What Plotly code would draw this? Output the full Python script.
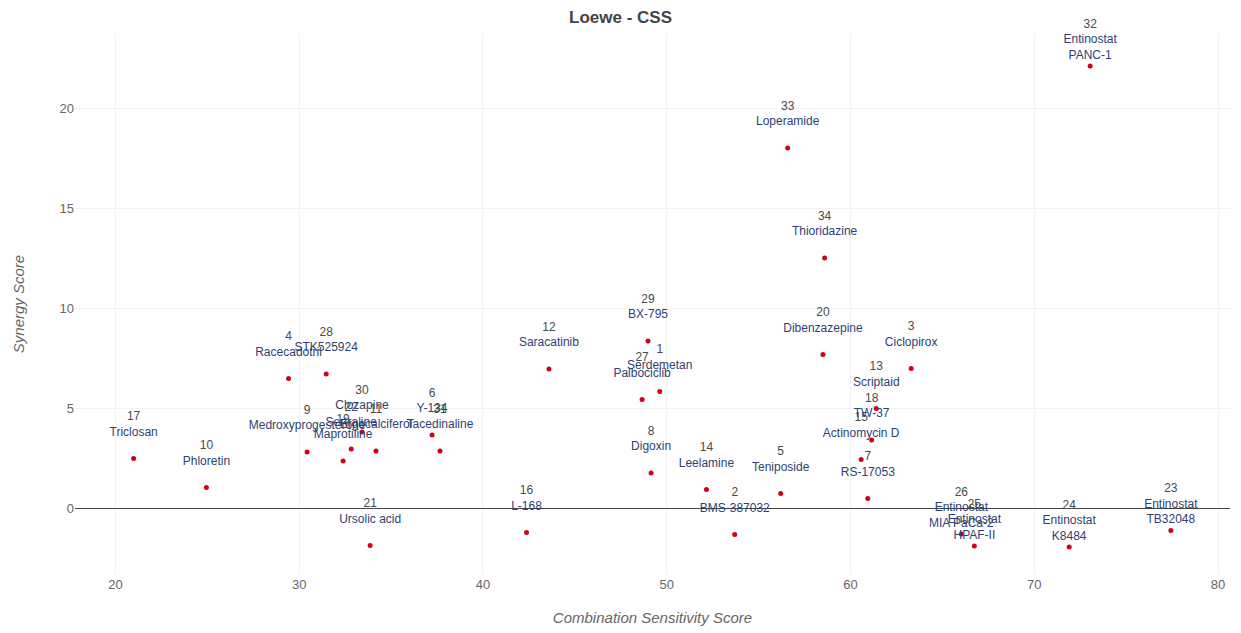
import plotly.graph_objects as go

# Drug combinations: index, drug name, cell line (if any), CSS and Loewe synergy
ids = [1, 2, 3, 4, 5, 6, 7, 8, 9, 10, 11, 12, 13, 14, 15, 16, 17,
       18, 19, 20, 21, 22, 23, 24, 25, 26, 27, 28, 29, 30, 31, 32, 33, 34]
drugs = ["Serdemetan", "BMS-387032", "Ciclopirox", "Racecadotril", "Teniposide",
         "Y-134", "RS-17053", "Digoxin", "Medroxyprogesterone", "Phloretin",
         "Ergocalciferol", "Saracatinib", "Scriptaid", "Leelamine", "Actinomycin D",
         "L-168", "Triclosan", "TW-37", "Maprotiline", "Dibenzazepine",
         "Ursolic acid", "Sertraline", "Entinostat", "Entinostat", "Entinostat",
         "Entinostat", "Palbociclib", "STK525924", "BX-795", "Clozapine",
         "Tacedinaline", "Entinostat", "Loperamide", "Thioridazine"]
cell_lines = ["", "", "", "", "", "", "", "", "", "",
              "", "", "", "", "", "", "", "", "", "",
              "", "", "TB32048", "K8484", "HPAF-II", "MIA PaCa-2", "", "", "", "",
              "", "PANC-1", "", ""]
css = [49.62, 53.70, 63.30, 29.42, 56.20, 37.23, 60.94, 49.15, 30.43, 24.95,
       34.18, 43.59, 61.40, 52.16, 60.58, 42.37, 20.99, 61.15, 32.39, 58.50,
       33.86, 32.83, 77.43, 71.90, 66.74, 66.03, 48.66, 31.47, 48.98, 33.42,
       37.66, 73.04, 56.58, 58.59]
synergy = [5.82, -1.32, 6.98, 6.47, 0.73, 3.65, 0.48, 1.75, 2.80, 1.03,
           2.85, 6.95, 4.98, 0.93, 2.43, -1.23, 2.48, 3.40, 2.35, 7.68,
           -1.87, 2.95, -1.13, -1.95, -1.90, -1.30, 5.43, 6.70, 8.35, 3.80,
           2.85, 22.10, 18.00, 12.50]

name_color = "#2e3f75"
labels = [
    f"{i}<br><span style='color:{name_color}'>{d}</span><br>"
    f"<span style='color:{name_color}'>{c}</span>"
    for i, d, c in zip(ids, drugs, cell_lines)
]

fig = go.Figure(
    go.Scatter(
        x=css,
        y=synergy,
        mode="markers+text",
        text=labels,
        textposition="top center",
        textfont=dict(size=12, color="#4a4a4a",
                      family="Liberation Sans, Arial, sans-serif"),
        marker=dict(size=5, color="#d0021b"),
        cliponaxis=False,
        hoverinfo="x+y+text",
    )
)

fig.update_layout(
    template="plotly_white",
    width=1241,
    height=633,
    margin=dict(l=75, r=11, t=33, b=58),
    font=dict(family="Liberation Sans, Arial, sans-serif", color="#666666"),
    title=dict(text="<b>Loewe - CSS</b>", x=0.5, xanchor="center",
               y=0.973, yanchor="middle",
               font=dict(size=17, color="#444444")),
    showlegend=False,
    paper_bgcolor="white",
    plot_bgcolor="white",
)
fig.update_xaxes(
    range=[17.8, 80.65],
    tickvals=[20, 30, 40, 50, 60, 70, 80],
    gridcolor="#f2f2f2",
    zeroline=False,
    showline=False,
    automargin=False,
    tickfont=dict(size=13, color="#666666"),
    title=dict(text="<i>Combination Sensitivity Score</i>",
               font=dict(size=15, color="#666666"), standoff=21),
)
fig.update_yaxes(
    range=[-3.35, 23.75],
    tickvals=[0, 5, 10, 15, 20],
    gridcolor="#f2f2f2",
    zeroline=True,
    zerolinecolor="#444444",
    zerolinewidth=1,
    showline=False,
    automargin=False,
    tickfont=dict(size=13, color="#666666"),
    title=dict(text="<i>Synergy Score</i>",
               font=dict(size=15, color="#666666"), standoff=31),
)

fig.write_html("out.html")
